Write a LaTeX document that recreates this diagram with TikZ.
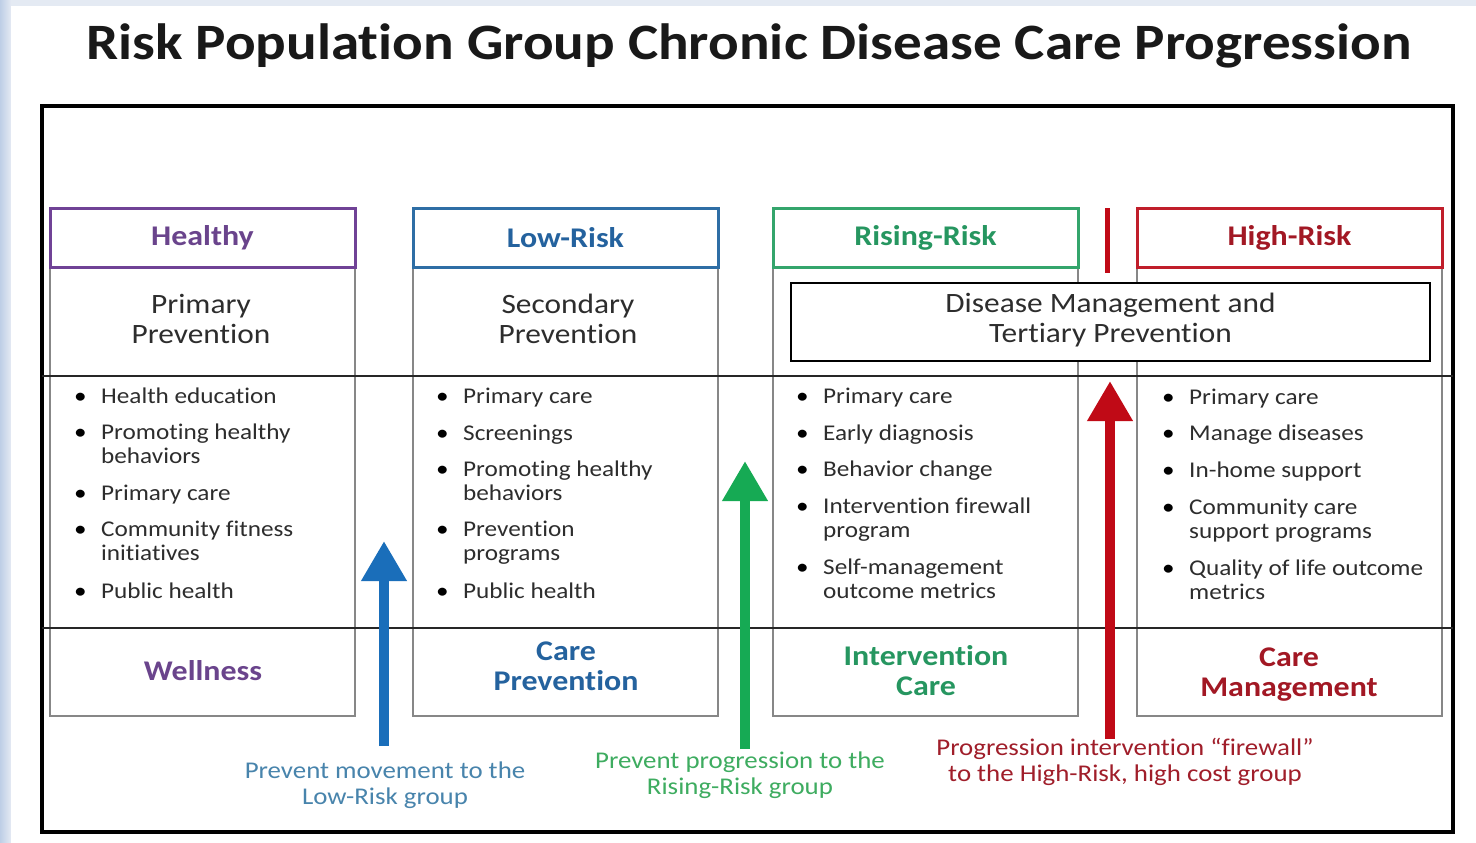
\documentclass[tikz,border=0pt]{standalone}
\usepackage{fontspec}
\setmainfont{Carlito}[FakeStretch=1.12, Ligatures=CommonOff]
\usetikzlibrary{arrows.meta}
\definecolor{bgstrip}{RGB}{190,206,230}
\definecolor{bgtop}{RGB}{228,234,243}
\definecolor{pBord}{RGB}{112,66,150}
\definecolor{pText}{RGB}{106,68,140}
\definecolor{bBord}{RGB}{46,110,165}
\definecolor{bText}{RGB}{36,98,158}
\definecolor{bArrow}{RGB}{26,110,186}
\definecolor{bLab}{RGB}{72,132,172}
\definecolor{gBord}{RGB}{52,165,108}
\definecolor{gText}{RGB}{38,150,96}
\definecolor{gArrow}{RGB}{22,170,84}
\definecolor{gLab}{RGB}{62,172,96}
\definecolor{rBord}{RGB}{192,30,42}
\definecolor{rText}{RGB}{162,24,36}
\definecolor{rArrow}{RGB}{192,10,22}
\definecolor{rLab}{RGB}{160,30,42}
\definecolor{txt}{RGB}{45,45,45}
\definecolor{colgray}{RGB}{135,135,135}
\tikzset{
  hdr/.style={draw, line width=3pt, fill=white, minimum width=305pt, minimum height=59pt, inner sep=0pt,
    font=\fontsize{28.5}{30}\selectfont\bfseries},
  colbox/.style={draw=colgray, line width=1.3pt, minimum width=305pt, minimum height=508pt, inner sep=0pt},
  sub/.style={align=center, text=txt, font=\fontsize{28}{30}\selectfont, inner sep=0pt},
  foot/.style={align=center, font=\fontsize{28.5}{30}\selectfont\bfseries, inner sep=0pt},
  bul/.style={text=black, font=\fontsize{22.5}{24}\selectfont, inner sep=0pt, anchor=north west},
  btxt/.style={text=txt, font=\fontsize{22.5}{24}\selectfont, align=left, inner sep=0pt, anchor=north west},
  lab/.style={align=center, font=\fontsize{24}{26}\selectfont, inner sep=0pt},
  uparrow/.style={line width=10pt, -{Triangle[width=43pt,length=40pt]}},
  hline/.style={line width=2pt, black!85},
}
\newcommand\bitem[4]{%
  \node[bul] (#1b) at (#2-27,#3-9) {\strut•};
  \node[btxt] (#1) at (#2,#3-9) {#4};}
\begin{document}
\begin{tikzpicture}[x=1pt,y=-1pt]
\useasboundingbox (0,0) rectangle (1476,843);
% background
\fill[bgtop] (0,0) rectangle (1476,843);
\shade[left color=bgstrip, right color=bgtop] (0,0) rectangle (11,843);
\fill[white] (11,6) rectangle (1476,843);
% title
\node[font=\fontsize{51}{54}\selectfont\bfseries, text=black!90, inner sep=0pt] (title) at (749,46)
  {Risk Population Group Chronic Disease Care Progression};
% frame
\draw[line width=4pt, fill=white] (42,106) rectangle (1453,832);
% column boxes
\node[colbox] (col1) at (202.5,462) {};
\node[colbox] (col2) at (565.5,462) {};
\node[colbox] (col3) at (925.5,462) {};
\node[colbox] (col4) at (1289.5,462) {};
% horizontal rules
\draw[hline] (42,376) -- (1453,376);
\draw[hline] (42,628) -- (1453,628);
% headers
\node[hdr, draw=pBord, text=pText] (h1) at (202.5,237.5) {Healthy};
\node[hdr, draw=bBord, text=bText] (h2) at (565.5,237.5) {Low-Risk};
\node[hdr, draw=gBord, text=gText] (h3) at (925.5,237.5) {Rising-Risk};
\node[hdr, draw=rBord, text=rText] (h4) at (1289.5,237.5) {High-Risk};
\coordinate (rb1) at (1107,208);
\coordinate (rb2) at (1107,273);
\draw[line width=5pt, rArrow] (rb1) -- (rb2);
% sub headings
\node[sub] (s1) at (201,319) {Primary\\Prevention};
\node[sub] (s2) at (568,319) {Secondary\\Prevention};
\node[draw, line width=2.5pt, fill=white, minimum width=639pt, minimum height=78pt, inner sep=0pt] (dm) at (1110.5,322) {};
\node[sub] (s3) at (1110.5,320) {Disease Management and\\Tertiary Prevention};
% bullets column 1
\bitem{a1}{101}{395}{\strut Health education}
\bitem{a2}{101}{431}{\strut Promoting healthy\\\strut behaviors}
\bitem{a3}{101}{492}{\strut Primary care}
\bitem{a4}{101}{528}{\strut Community fitness\\\strut initiatives}
\bitem{a5}{101}{590}{\strut Public health}
% column 2
\bitem{b1}{463}{395}{\strut Primary care}
\bitem{b2}{463}{432}{\strut Screenings}
\bitem{b3}{463}{468}{\strut Promoting healthy\\\strut behaviors}
\bitem{b4}{463}{528}{\strut Prevention\\\strut programs}
\bitem{b5}{463}{590}{\strut Public health}
% column 3
\bitem{c1}{823}{395}{\strut Primary care}
\bitem{c2}{823}{432}{\strut Early diagnosis}
\bitem{c3}{823}{468}{\strut Behavior change}
\bitem{c4}{823}{505}{\strut Intervention firewall\\\strut program}
\bitem{c5}{823}{566}{\strut Self-management\\\strut outcome metrics}
% column 4
\bitem{d1}{1189}{396}{\strut Primary care}
\bitem{d2}{1189}{432}{\strut Manage diseases}
\bitem{d3}{1189}{469}{\strut In-home support}
\bitem{d4}{1189}{506}{\strut Community care\\\strut support programs}
\bitem{d5}{1189}{567}{\strut Quality of life outcome\\\strut metrics}
% bottom row
\node[foot, text=pText] (f1) at (203,671) {Wellness};
\node[foot, text=bText] (f2) at (566,666) {Care\\Prevention};
\node[foot, text=gText] (f3) at (926,671) {Intervention\\Care};
\node[foot, text=rText] (f4) at (1289,675) {Care\\Management};
% arrows
\coordinate (a1s) at (384,746);
\coordinate (a1e) at (384,541);
\coordinate (a2s) at (745,749);
\coordinate (a2e) at (745,461);
\coordinate (a3s) at (1110,739);
\coordinate (a3e) at (1110,381);
\draw[uparrow, bArrow] (a1s) -- (a1e);
\draw[uparrow, gArrow] (a2s) -- (a2e);
\draw[uparrow, rArrow] (a3s) -- (a3e);
% labels
\node[lab, text=bLab] (l1) at (385,785) {Prevent movement to the\\Low-Risk group};
\node[lab, text=gLab] (l2) at (740,775) {Prevent progression to the\\Rising-Risk group};
\node[lab, text=rLab] (l3) at (1125,762) {Progression intervention “firewall”\\to the High-Risk, high cost group};
\end{tikzpicture}
\end{document}
